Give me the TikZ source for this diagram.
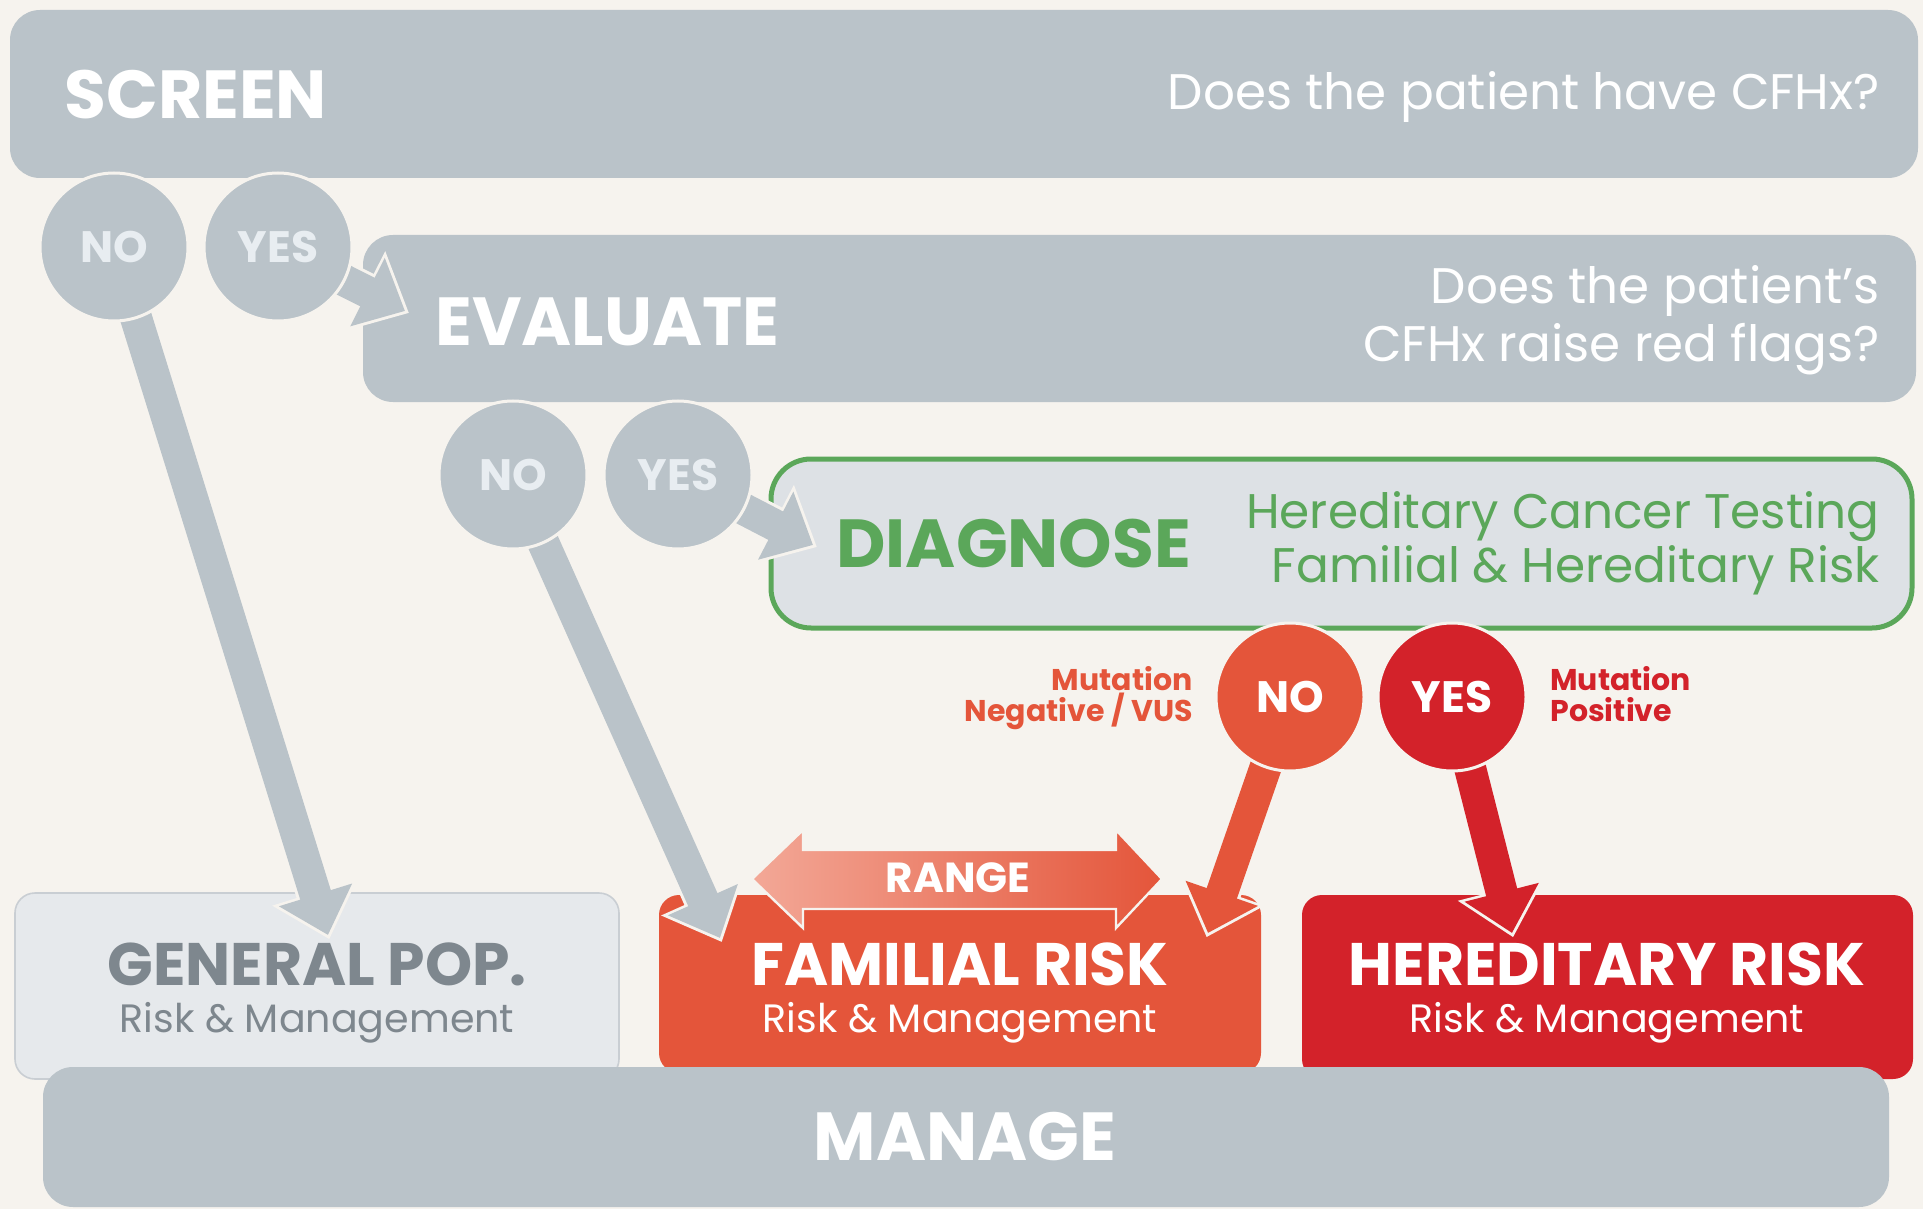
\documentclass[tikz,border=0pt]{standalone}
\usepackage{fontspec}
\setmainfont{Poppins}
\usetikzlibrary{arrows.meta}

\definecolor{paper}{HTML}{F6F3EE}
\definecolor{slate}{HTML}{BAC3C9}
\definecolor{slatetext}{HTML}{E8EDF1}
\definecolor{mist}{HTML}{DDE1E5}
\definecolor{popfill}{HTML}{E6E9EC}
\definecolor{popline}{HTML}{C9CED3}
\definecolor{poptext}{HTML}{7E878E}
\definecolor{leaf}{HTML}{5BA75A}
\definecolor{coral}{HTML}{E4553A}
\definecolor{crimson}{HTML}{D3222A}
\definecolor{salmon}{HTML}{F3A897}

\pgfdeclarelayer{boxes}
\pgfdeclarelayer{links}
\pgfsetlayers{boxes,links,main}

\begin{document}
\begin{tikzpicture}[x=0.5pt, y=-0.5pt,
    bar/.style={fill=slate, rounded corners=15pt},
    choice/.style={circle, minimum size=74pt, inner sep=0pt, draw=paper, line width=1.5pt,
      font=\fontsize{22}{22}\selectfont\bfseries},
    graychoice/.style={choice, fill=slate, text=slatetext},
    link/.style={draw=#1, line width=16pt, -{Triangle[length=21pt, width=37pt]},
      preaction={draw=paper, line width=19pt, shorten >=-2.2pt,
        -{Triangle[length=24.5pt, width=43pt]}}},
    title/.style={inner sep=0pt, font=\fontsize{34}{40}\selectfont\bfseries},
    ask/.style={inner sep=0pt, text=white, font=\fontsize{25}{30}\selectfont},
    riskhead/.style={inner sep=0pt, font=\fontsize{30}{36}\selectfont\bfseries},
    risksub/.style={inner sep=0pt, font=\fontsize{19.8}{24}\selectfont},
    tag/.style={inner sep=0pt, font=\fontsize{15}{18}\selectfont\bfseries}]

    \begin{pgfonlayer}{boxes}
        \fill[paper] (0,0) rectangle (1923,1209);
        \fill[bar] (10,10) rectangle (1918,178);
        \fill[bar] (363,235) rectangle (1916,402);
        \draw[fill=mist, draw=leaf, line width=2.5pt, rounded corners=20pt] (771,459) rectangle (1912,628);
        \draw[fill=popfill, draw=popline, line width=0.8pt, rounded corners=10pt] (15,893) rectangle (619,1079);
        \fill[coral, rounded corners=10pt] (659,895) rectangle (1261,1073);
        \fill[crimson, rounded corners=10pt] (1302,895) rectangle (1913,1079);
        \fill[bar] (43,1067) rectangle (1889,1207);
    \end{pgfonlayer}

    \node[title, text=white, anchor=base west] at (64,119) {SCREEN};
    \node[ask, anchor=base east] at (1880,110) {Does the patient have CFHx?};
    \node[title, text=white, anchor=base west] at (435,346) {EVALUATE};
    \node[ask, anchor=base east] at (1880,304) {Does the patient’s};
    \node[ask, anchor=base east] at (1880,362) {CFHx raise red flags?};
    \node[title, text=leaf, anchor=base west] at (836,567) {DIAGNOSE};
    \node[ask, text=leaf, font=\fontsize{24.3}{30}\selectfont, anchor=base east] at (1880,528) {Hereditary Cancer Testing};
    \node[ask, text=leaf, font=\fontsize{24.3}{30}\selectfont, anchor=base east] at (1880,582) {Familial \& Hereditary Risk};

    \node[graychoice] (noScreen) at (114,247) {NO};
    \node[graychoice] (yesScreen) at (278,247) {YES};
    \node[graychoice] (noEval) at (513,475) {NO};
    \node[graychoice] (yesEval) at (678,475) {YES};
    \node[choice, fill=coral, text=white] (noDiag) at (1290,697) {NO};
    \node[choice, fill=crimson, text=white] (yesDiag) at (1452,697) {YES};

    \node[tag, text=coral, anchor=base east] at (1193,690) {Mutation};
    \node[tag, text=coral, anchor=base east] at (1193,721) {Negative / VUS};
    \node[tag, text=crimson, anchor=base west] at (1550,690) {Mutation};
    \node[tag, text=crimson, anchor=base west] at (1550,721) {Positive};

    \coordinate (tipGen) at (328,935);
    \coordinate (tipEval) at (405,311);
    \coordinate (tipFamA) at (720,938);
    \coordinate (tipDiag) at (813,545);
    \coordinate (tipFamB) at (1208,933);
    \coordinate (tipHer) at (1512,933);

    \begin{pgfonlayer}{links}
        \draw[link=slate] (noScreen.center) -- (tipGen);
        \draw[link=slate] (yesScreen.center) -- (tipEval);
        \draw[link=slate] (noEval.center) -- (tipFamA);
        \draw[link=slate] (yesEval.center) -- (tipDiag);
        \draw[link=coral] (noDiag.center) -- (tipFamB);
        \draw[link=crimson] (yesDiag.center) -- (tipHer);
    \end{pgfonlayer}

    \path[draw=paper, line width=1.2pt, left color=salmon, right color=coral]
        (752,879) -- (803,830) -- (803,850) -- (1116,850) -- (1116,830) -- (1162,879)
        -- (1116,928) -- (1116,909) -- (803,909) -- (803,928) -- cycle;
    \node[inner sep=0pt, text=white, font=\fontsize{21}{24}\selectfont\bfseries, anchor=base] (range) at (958,892) {RANGE};

    \node[riskhead, text=poptext, anchor=base] at (317,985) {GENERAL POP.};
    \node[risksub, text=poptext, anchor=base] at (317,1032) {Risk \& Management};
    \node[riskhead, text=white, anchor=base] at (960,985) {FAMILIAL RISK};
    \node[risksub, text=white, anchor=base] at (960,1032) {Risk \& Management};
    \node[riskhead, text=white, anchor=base] at (1607,985) {HEREDITARY RISK};
    \node[risksub, text=white, anchor=base] at (1607,1032) {Risk \& Management};
    \node[title, text=white, anchor=base] at (965,1160) {MANAGE};
\end{tikzpicture}
\end{document}
